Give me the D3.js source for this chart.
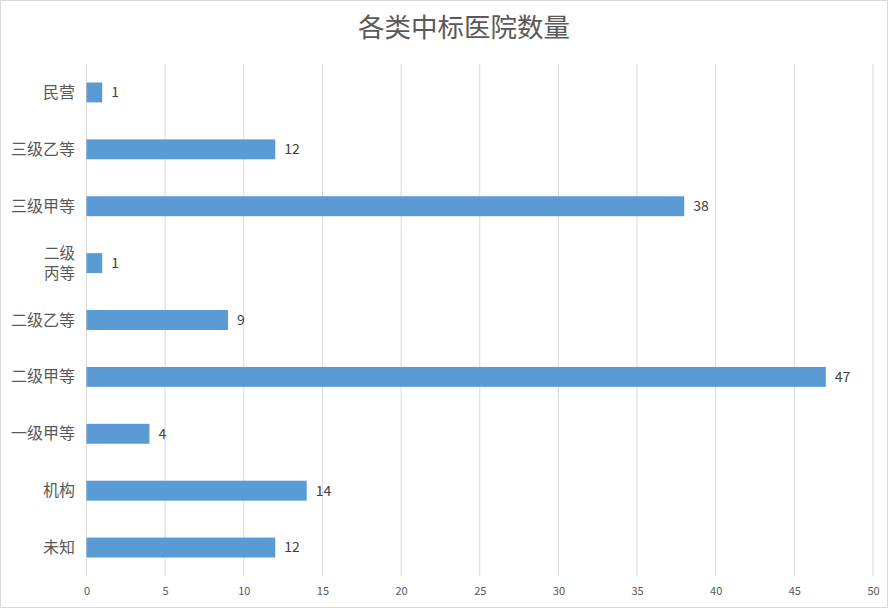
<!DOCTYPE html>
<html><head><meta charset="utf-8">
<script src="https://cdn.jsdelivr.net/npm/d3@7"></script>
<style>body{margin:0;background:#fff}svg{display:block}</style>
</head><body>
<script>
const categories = ["民营","三级乙等","三级甲等","二级丙等","二级乙等","二级甲等","一级甲等","机构","未知"];
const values = [1,12,38,1,9,47,4,14,12];
const xTicks = [0,5,10,15,20,25,30,35,40,45,50];
const title = "各类中标医院数量";

const W = 888, H = 608;
const font = "'Noto Sans CJK SC','Microsoft YaHei',sans-serif";
const svg = d3.select("body").append("svg").attr("width", W).attr("height", H);
svg.append("rect").attr("x",0.5).attr("y",0.5).attr("width",W-1).attr("height",H-1)
  .attr("fill","#fff").attr("stroke","#d9d9d9");

const x = d3.scaleLinear().domain([0,50]).range([86.5,873]);
const y = d3.scaleBand().domain(categories).range([64,576]).paddingInner(0.65).paddingOuter(0.325);

svg.append("text").attr("x",464).attr("y",37).attr("text-anchor","middle")
  .attr("font-family",font).attr("font-size",26.5).attr("fill","#595959").text(title);

const g = svg.append("g");
g.selectAll("line.grid").data(xTicks).join("line")
  .attr("x1",d=>x(d)).attr("x2",d=>x(d)).attr("y1",64).attr("y2",576)
  .attr("stroke","#d9d9d9").attr("stroke-width",1);

const xAxis = d3.axisBottom(x).tickValues(xTicks).tickSize(0).tickPadding(0);
const ax = svg.append("g").attr("transform","translate(0,576)").call(xAxis);
ax.select(".domain").remove();
ax.selectAll("text").attr("font-family",font).attr("font-size",11).attr("fill","#595959").attr("dy",null).attr("y",19);

g.selectAll("rect.bar").data(values).join("rect")
  .attr("x",x(0)).attr("y",(d,i)=>y(categories[i]))
  .attr("width",d=>x(d)-x(0)).attr("height",y.bandwidth())
  .attr("fill","#5b9bd5");

g.selectAll("text.val").data(values).join("text")
  .attr("x",d=>x(d)+9).attr("y",(d,i)=>y(categories[i])+y.bandwidth()/2)
  .attr("dy","0.35em").attr("font-family",font).attr("font-size",14).attr("fill","#404040").text(d=>d);

categories.forEach((c,i)=>{
  const cy = y(c)+y.bandwidth()/2;
  const t = svg.append("text").attr("text-anchor","end").attr("font-family",font)
    .attr("font-size",16).attr("fill","#595959");
  if (c === "二级丙等") {
    t.attr("font-size",15.5);
    t.append("tspan").attr("x",75).attr("y",cy-10).attr("dy","0.35em").text("二级");
    t.append("tspan").attr("x",75).attr("y",cy+10).attr("dy","0.35em").text("丙等");
  } else {
    t.attr("x",75).attr("y",cy).attr("dy","0.35em").text(c);
  }
});
</script>
</body></html>
